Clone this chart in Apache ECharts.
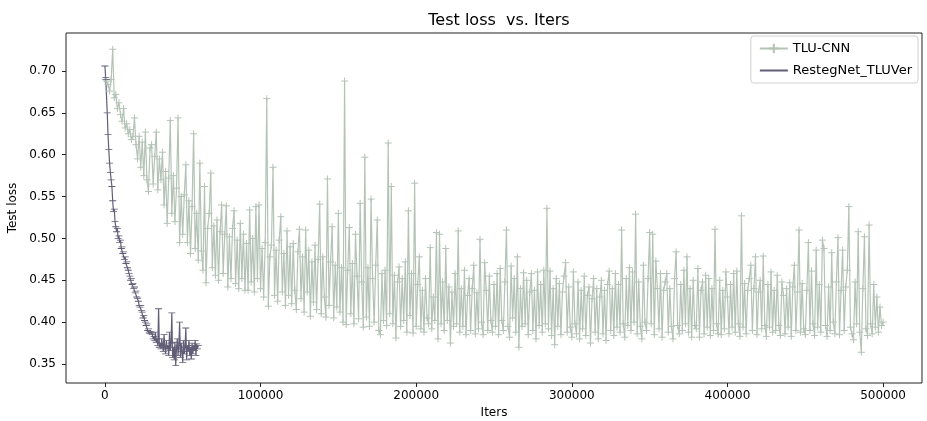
<!DOCTYPE html>
<html>
<head>
<meta charset="utf-8">
<title>Test loss vs. Iters</title>
<script src="https://cdn.jsdelivr.net/npm/echarts@6/dist/echarts.min.js"></script>
<style>
  html, body { margin: 0; padding: 0; background: #fff; }
  #chart { width: 927px; height: 421px; }
</style>
</head>
<body>
<div id="chart"></div>
<script>
  // test loss of TLU-CNN, one value every 1000 iters (0 .. 500000)
  var tluStep = 1000;
  var tluLoss0 = [
    0.690, 0.688, 0.684, 0.676, 0.690, 0.726, 0.668, 0.672, 0.655, 0.662,
    0.648, 0.640, 0.655, 0.632, 0.637, 0.625, 0.630, 0.618, 0.622, 0.644,
    0.612, 0.595, 0.622, 0.585, 0.615, 0.575, 0.627, 0.570, 0.556, 0.608,
    0.612, 0.565, 0.598, 0.627, 0.558, 0.595, 0.570, 0.603, 0.540, 0.580,
    0.518, 0.572, 0.641, 0.530, 0.575, 0.520, 0.560, 0.644, 0.495, 0.550,
    0.505, 0.552, 0.588, 0.495, 0.545, 0.482, 0.538, 0.625, 0.488, 0.530,
    0.474, 0.590, 0.485, 0.462, 0.562, 0.447, 0.512, 0.530, 0.578, 0.465,
    0.515, 0.456, 0.522, 0.450, 0.508, 0.540, 0.458, 0.505, 0.539, 0.442,
    0.502, 0.452, 0.512, 0.533, 0.446, 0.498, 0.440, 0.518, 0.452, 0.505,
    0.438, 0.494, 0.438, 0.534, 0.448, 0.500, 0.436, 0.538, 0.452, 0.540
  ];
  var tluLoss1 = [
    0.440, 0.488, 0.430, 0.495, 0.667, 0.419, 0.478, 0.492, 0.585, 0.432,
    0.486, 0.425, 0.498, 0.526, 0.436, 0.482, 0.420, 0.509, 0.432, 0.490,
    0.422, 0.494, 0.438, 0.415, 0.484, 0.511, 0.428, 0.478, 0.412, 0.510,
    0.436, 0.486, 0.407, 0.472, 0.424, 0.492, 0.415, 0.475, 0.541, 0.410,
    0.478, 0.430, 0.406, 0.571, 0.420, 0.472, 0.514, 0.405, 0.468, 0.418,
    0.530, 0.412, 0.465, 0.400, 0.688, 0.397, 0.462, 0.513, 0.410, 0.470,
    0.398, 0.505, 0.455, 0.404, 0.542, 0.448, 0.394, 0.597, 0.406, 0.465,
    0.395, 0.547, 0.452, 0.400, 0.468, 0.522, 0.390, 0.385, 0.458, 0.402,
    0.462, 0.396, 0.614, 0.410, 0.562, 0.398, 0.456, 0.381, 0.448, 0.466,
    0.395, 0.452, 0.402, 0.472, 0.388, 0.533, 0.408, 0.458, 0.387, 0.566
  ];
  var tluLoss2 = [
    0.395, 0.445, 0.478, 0.392, 0.438, 0.388, 0.452, 0.405, 0.398, 0.489,
    0.392, 0.430, 0.402, 0.507, 0.380, 0.505, 0.398, 0.448, 0.390, 0.488,
    0.402, 0.442, 0.375, 0.436, 0.395, 0.458, 0.398, 0.509, 0.388, 0.440,
    0.395, 0.462, 0.385, 0.432, 0.452, 0.390, 0.440, 0.468, 0.386, 0.435,
    0.392, 0.499, 0.400, 0.385, 0.471, 0.438, 0.390, 0.455, 0.402, 0.388,
    0.445, 0.395, 0.458, 0.385, 0.464, 0.402, 0.390, 0.448, 0.510, 0.395,
    0.382, 0.467, 0.405, 0.452, 0.388, 0.478, 0.370, 0.440, 0.395, 0.459,
    0.398, 0.450, 0.385, 0.436, 0.458, 0.390, 0.438, 0.380, 0.460, 0.396,
    0.445, 0.388, 0.462, 0.398, 0.536, 0.392, 0.461, 0.384, 0.440, 0.373,
    0.452, 0.395, 0.446, 0.385, 0.436, 0.455, 0.471, 0.388, 0.442, 0.394
  ];
  var tluLoss3 = [
    0.382, 0.460, 0.398, 0.386, 0.448, 0.380, 0.438, 0.392, 0.455, 0.384,
    0.432, 0.442, 0.375, 0.428, 0.452, 0.388, 0.440, 0.380, 0.430, 0.450,
    0.386, 0.438, 0.378, 0.445, 0.461, 0.390, 0.440, 0.384, 0.458, 0.394,
    0.445, 0.388, 0.510, 0.398, 0.382, 0.452, 0.396, 0.465, 0.390, 0.460,
    0.400, 0.529, 0.386, 0.448, 0.395, 0.380, 0.468, 0.400, 0.390, 0.452,
    0.507, 0.398, 0.505, 0.385, 0.473, 0.440, 0.392, 0.458, 0.382, 0.438,
    0.448, 0.458, 0.388, 0.440, 0.395, 0.380, 0.452, 0.484, 0.396, 0.386,
    0.445, 0.390, 0.462, 0.398, 0.478, 0.388, 0.440, 0.382, 0.450, 0.396,
    0.392, 0.464, 0.382, 0.438, 0.448, 0.386, 0.456, 0.394, 0.452, 0.384,
    0.440, 0.390, 0.511, 0.398, 0.386, 0.450, 0.385, 0.438, 0.392, 0.460
  ];
  var tluLoss4 = [
    0.430, 0.386, 0.445, 0.394, 0.458, 0.388, 0.461, 0.398, 0.383, 0.527,
    0.394, 0.446, 0.386, 0.438, 0.452, 0.468, 0.390, 0.440, 0.478, 0.385,
    0.436, 0.450, 0.392, 0.479, 0.396, 0.383, 0.445, 0.394, 0.460, 0.388,
    0.438, 0.390, 0.456, 0.396, 0.384, 0.448, 0.432, 0.386, 0.440, 0.394,
    0.447, 0.383, 0.442, 0.468, 0.390, 0.436, 0.510, 0.388, 0.446, 0.392,
    0.385, 0.438, 0.495, 0.390, 0.461, 0.398, 0.384, 0.486, 0.394, 0.445,
    0.388, 0.498, 0.488, 0.396, 0.383, 0.442, 0.390, 0.483, 0.400, 0.386,
    0.448, 0.501, 0.385, 0.438, 0.486, 0.390, 0.442, 0.462, 0.538, 0.394,
    0.386, 0.379, 0.448, 0.398, 0.508, 0.388, 0.364, 0.440, 0.502, 0.392,
    0.384, 0.516, 0.398, 0.386, 0.445, 0.394, 0.430, 0.388, 0.418, 0.396,
    0.400
  ];

  // test loss of RestegNet_TLUVer, one value every 500 iters (0 .. 60000)
  var restegStep = 500;
  var restegLoss = [
    0.706, 0.692, 0.690, 0.650, 0.624, 0.606, 0.590, 0.579, 0.570, 0.562,
    0.545, 0.532, 0.535, 0.520, 0.514, 0.508, 0.512, 0.500, 0.503, 0.495,
    0.498, 0.488, 0.490, 0.482, 0.484, 0.475, 0.478, 0.470, 0.472, 0.465,
    0.462, 0.458, 0.455, 0.450, 0.452, 0.445, 0.446, 0.440, 0.442, 0.435,
    0.437, 0.430, 0.428, 0.425, 0.420, 0.418, 0.420, 0.414, 0.412, 0.405,
    0.408, 0.402, 0.400, 0.396, 0.398, 0.390, 0.392, 0.387, 0.389, 0.386,
    0.388, 0.385, 0.380, 0.383, 0.378, 0.388, 0.376, 0.380, 0.372, 0.416,
    0.370, 0.375, 0.368, 0.380, 0.372, 0.365, 0.385, 0.370, 0.362, 0.378,
    0.368, 0.372, 0.360, 0.388, 0.366, 0.375, 0.411, 0.358, 0.370, 0.355,
    0.376, 0.348, 0.368, 0.380, 0.360, 0.372, 0.400, 0.358, 0.375, 0.365,
    0.352, 0.378, 0.362, 0.370, 0.393, 0.355, 0.372, 0.365, 0.378, 0.360,
    0.370, 0.356, 0.375, 0.362, 0.372, 0.366, 0.378, 0.360, 0.374, 0.368,
    0.372
  ];

  var xTicks = [0, 100000, 200000, 300000, 400000, 500000];
  var yTicks = [0.35, 0.40, 0.45, 0.50, 0.55, 0.60, 0.65, 0.70];

  function toPairs(values, step) {
    return values.map(function (v, i) { return [i * step, v]; });
  }

  var tluLoss = tluLoss0.concat(tluLoss1, tluLoss2, tluLoss3, tluLoss4);
  var font = 'DejaVu Sans';
  var tluColor = '#b4c3b6';
  var restegColor = '#615d77';
  // "+" marker and a thin "_" marker (tiny corner dots keep the box square for the legend)
  var plusMarker = 'path://M5,0L5,10M0,5L10,5';
  var dashMarker = 'path://M0,4.4H10V5.6H0Z M5,0H5.01V0.01H5Z M5,9.99H5.01V10H5Z';

  var chart = echarts.init(document.getElementById('chart'));
  chart.setOption({
    animation: false,
    title: {
      text: 'Test loss  vs. Iters',
      left: 494,
      top: 8,
      textAlign: 'center',
      textStyle: { fontFamily: font, fontSize: 16, fontWeight: 'normal', color: '#000' }
    },
    legend: {
      orient: 'vertical',
      right: 9,
      top: 36,
      padding: [6, 6, 6, 8],
      itemGap: 9,
      itemWidth: 28,
      itemHeight: 12,
      borderColor: '#d0d0d0',
      borderWidth: 1,
      borderRadius: 3,
      textStyle: { fontFamily: font, fontSize: 13, color: '#000' },
      data: ['TLU-CNN', 'RestegNet_TLUVer']
    },
    grid: {
      left: 66,
      right: 5,
      top: 33,
      bottom: 38,
      outerBoundsMode: 'none',
      show: true,
      borderColor: '#222',
      borderWidth: 1
    },
    xAxis: {
      type: 'value',
      min: -25000,
      max: 525000,
      name: 'Iters',
      nameLocation: 'middle',
      nameGap: 22,
      nameTextStyle: { fontFamily: font, fontSize: 12, color: '#000' },
      axisLine: { show: false, onZero: false },
      axisTick: { show: true, length: 4, customValues: xTicks, lineStyle: { color: '#222' } },
      axisLabel: {
        customValues: xTicks,
        fontFamily: font,
        fontSize: 12,
        color: '#000',
        margin: 7,
        formatter: function (v) { return String(v); }
      },
      splitLine: { show: false }
    },
    yAxis: {
      type: 'value',
      min: 0.3273,
      max: 0.7454,
      name: 'Test loss',
      nameLocation: 'middle',
      nameGap: 45,
      nameTextStyle: { fontFamily: font, fontSize: 12, color: '#000' },
      axisLine: { show: false, onZero: false },
      axisTick: { show: true, length: 4, customValues: yTicks, lineStyle: { color: '#222' } },
      axisLabel: {
        customValues: yTicks,
        fontFamily: font,
        fontSize: 12,
        color: '#000',
        margin: 10,
        formatter: function (v) { return v.toFixed(2); }
      },
      splitLine: { show: false }
    },
    series: [
      {
        name: 'TLU-CNN',
        type: 'line',
        data: toPairs(tluLoss, tluStep),
        showAllSymbol: true,
        symbol: plusMarker,
        symbolSize: 7,
        lineStyle: { color: tluColor, width: 1.2 },
        itemStyle: { color: 'transparent', borderColor: tluColor, borderWidth: 1 }
      },
      {
        name: 'RestegNet_TLUVer',
        type: 'line',
        data: toPairs(restegLoss, restegStep),
        showAllSymbol: true,
        symbol: dashMarker,
        symbolSize: 7,
        lineStyle: { color: restegColor, width: 1.2 },
        itemStyle: { color: restegColor }
      }
    ]
  });
</script>
</body>
</html>
